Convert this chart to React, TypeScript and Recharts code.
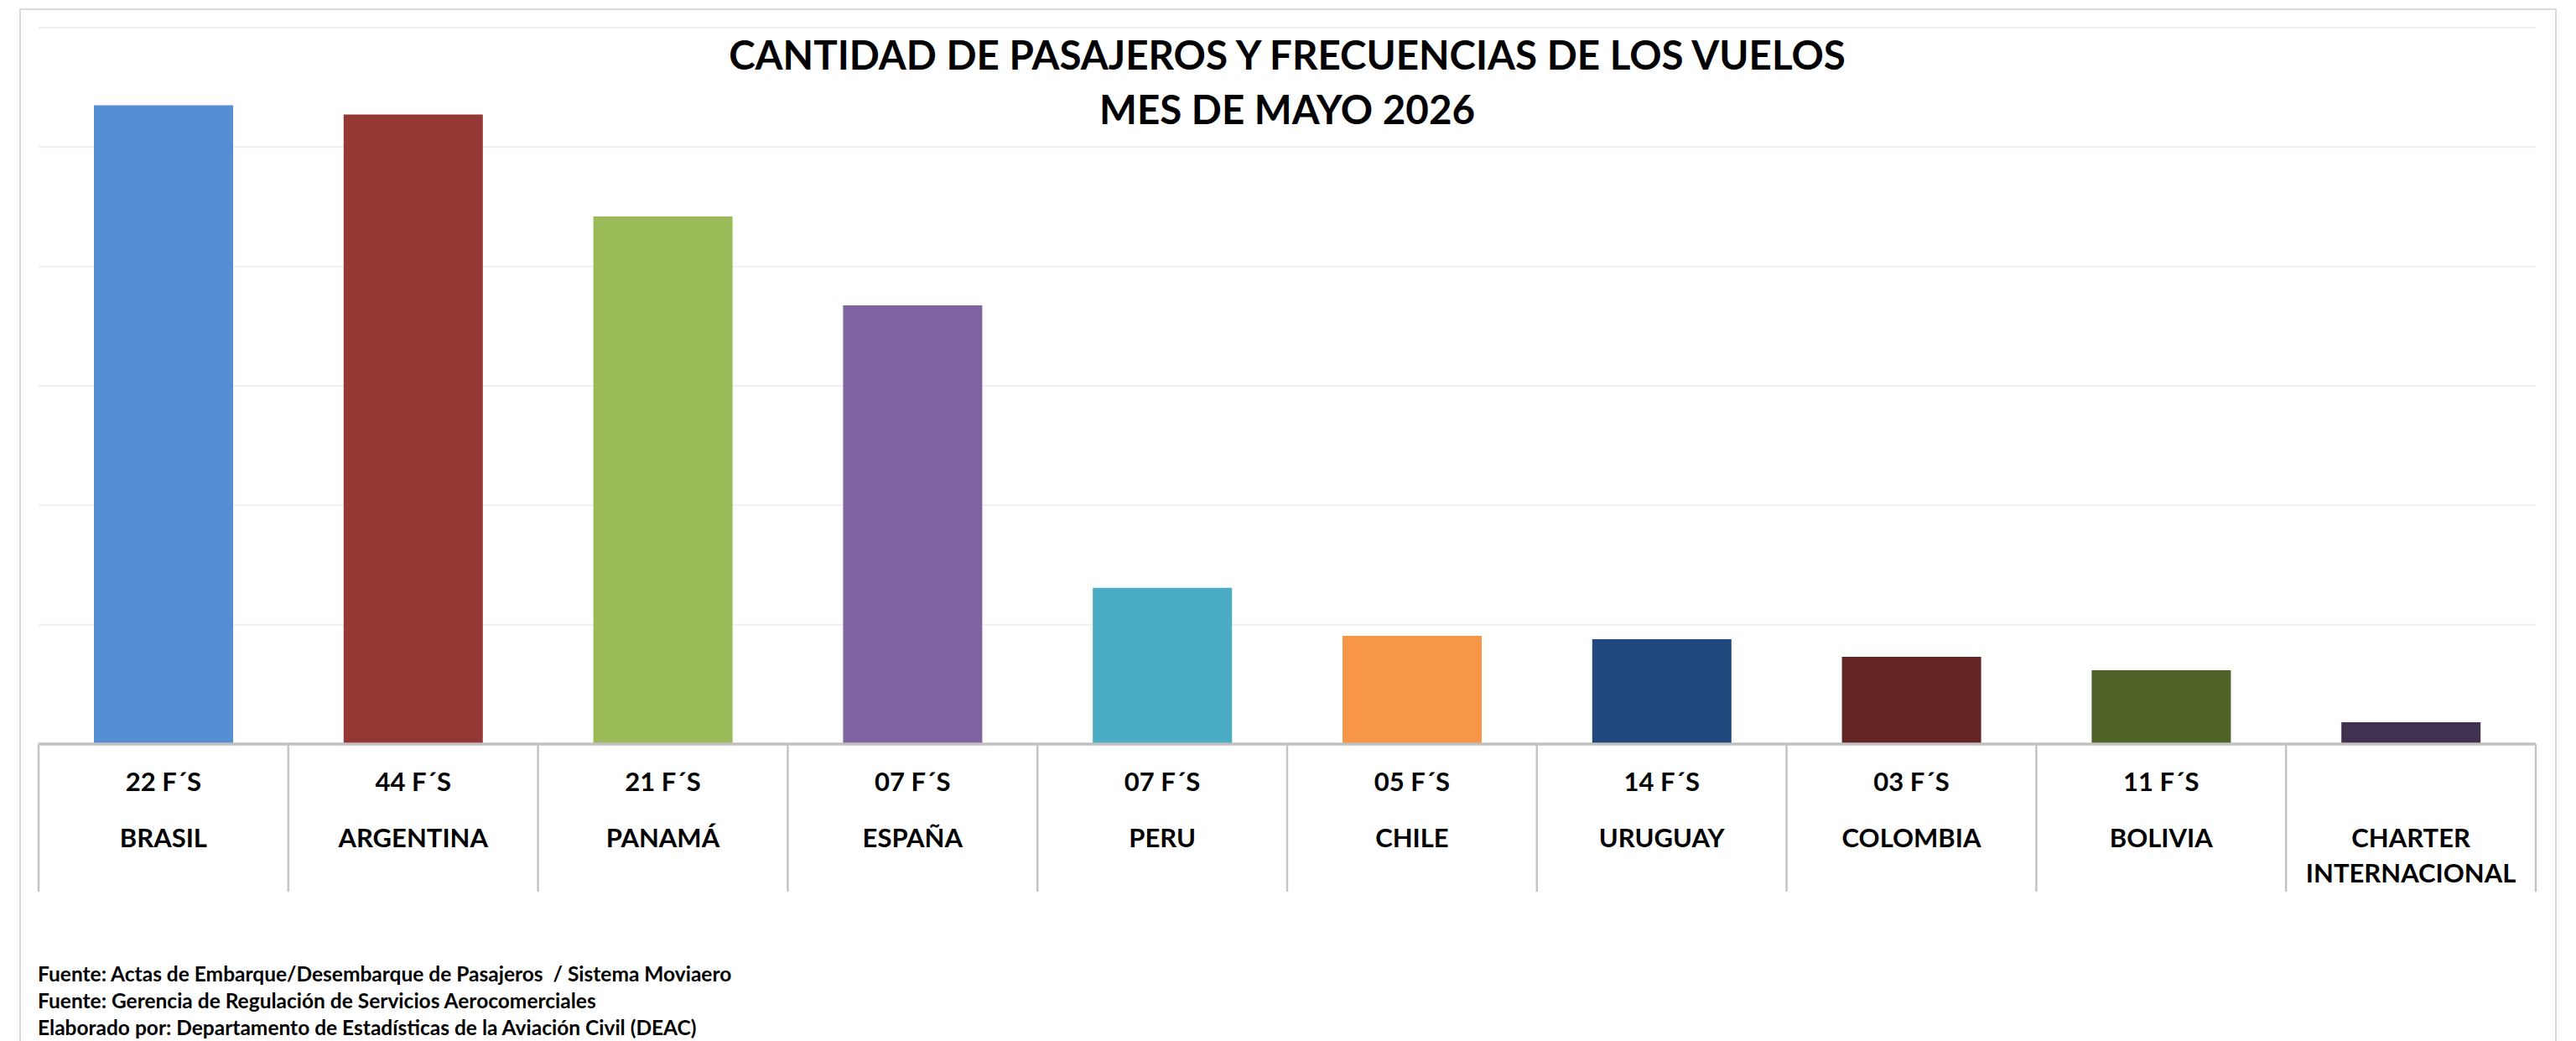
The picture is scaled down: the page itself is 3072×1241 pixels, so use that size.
import React from 'react';
import { BarChart, Bar, XAxis, YAxis, CartesianGrid, Cell } from 'recharts';

const countries = ['BRASIL', 'ARGENTINA', 'PANAMÁ', 'ESPAÑA', 'PERU', 'CHILE', 'URUGUAY', 'COLOMBIA', 'BOLIVIA', 'CHARTER INTERNACIONAL'];
const frequencies = ['22 F´S', '44 F´S', '21 F´S', '07 F´S', '07 F´S', '05 F´S', '14 F´S', '03 F´S', '11 F´S', ''];
const passengers = [26750, 26360, 22100, 18370, 6540, 4530, 4390, 3650, 3090, 910];
const barColors = ['#558ED5', '#953735', '#9BBB59', '#8064A2', '#4BACC6', '#F79646', '#1F497D', '#632523', '#4F6228', '#403151'];
const yTicks = [0, 5000, 10000, 15000, 20000, 25000, 30000];

const titleLines = ['CANTIDAD DE PASAJEROS Y FRECUENCIAS DE LOS VUELOS', 'MES DE MAYO 2026'];
const notes = [
    'Fuente: Actas de Embarque/Desembarque de Pasajeros  / Sistema Moviaero',
    'Fuente: Gerencia de Regulación de Servicios Aerocomerciales',
    'Elaborado por: Departamento de Estadísticas de la Aviación Civil (DEAC)',
];

const data = countries.map((name, i) => ({
    name,
    freq: frequencies[i],
    value: passengers[i],
}));

const FONT = 'Lato, "Open Sans", sans-serif';
const W = 3072;
const H = 1241;
const margin = { top: 33, right: 48, left: 46, bottom: 0 };
const AXIS_H = 354;

const CategoryTick = (props: any) => {
    const { x, y, payload, index } = props;
    const half = payload?.offset || (W - margin.left - margin.right) / countries.length / 2;
    const row = data[index] || { freq: '', name: payload.value };
    const words = String(payload.value).split(' ');
    return (
        <g>
            <line x1={x - half} x2={x - half} y1={y} y2={y + 176} stroke="#c4c4c4" strokeWidth={2.5} />
            {index === countries.length - 1 && (
                <line x1={x + half} x2={x + half} y1={y} y2={y + 176} stroke="#c4c4c4" strokeWidth={2.5} />
            )}
            {row.freq && (
                <text x={x} y={y + 56} textAnchor="middle" fontFamily={FONT} fontWeight={700} fontSize={31} fill="#000">
                    {row.freq}
                </text>
            )}
            {words.length > 1 ? (
                words.map((w, i) => (
                    <text key={w} x={x} y={y + 123 + i * 42} textAnchor="middle" fontFamily={FONT} fontWeight={700} fontSize={31} fill="#000">
                        {w}
                    </text>
                ))
            ) : (
                <text x={x} y={y + 123} textAnchor="middle" fontFamily={FONT} fontWeight={700} fontSize={31} fill="#000">
                    {payload.value}
                </text>
            )}
        </g>
    );
};

export default function App() {
    return (
        <div style={{ position: 'absolute', left: 0, top: 0, width: W, height: H, background: '#fff', overflow: 'hidden' }}>
            <div
                style={{
                    position: 'absolute',
                    left: 23,
                    top: 10,
                    width: 3026,
                    height: 1250,
                    border: '2px solid #d9d9d9',
                    boxSizing: 'border-box',
                }}
            />
            <div style={{ position: 'absolute', left: 0, top: 0 }}>
                <BarChart width={W} height={H} data={data} margin={margin}>
                    <CartesianGrid vertical={false} stroke="#efefef" strokeWidth={2} />
                    <YAxis hide domain={[0, 30000]} ticks={yTicks} />
                    <XAxis
                        dataKey="name"
                        height={AXIS_H}
                        interval={0}
                        tickLine={false}
                        tickSize={0}
                        tickMargin={0}
                        axisLine={{ stroke: '#c0c0c0', strokeWidth: 3.5 }}
                        tick={<CategoryTick />}
                    />
                    <Bar dataKey="value" barSize={166} isAnimationActive={false}>
                        {data.map((d, i) => (
                            <Cell key={d.name} fill={barColors[i]} />
                        ))}
                    </Bar>
                </BarChart>
            </div>
            <svg width={W} height={H} style={{ position: 'absolute', left: 0, top: 0, pointerEvents: 'none' }}>
                {titleLines.map((t, i) => (
                    <text key={t} x={1535} y={83 + i * 65} textAnchor="middle" fontFamily={FONT} fontWeight={700} fontSize={47.5} fill="#000">
                        {t}
                    </text>
                ))}
                {notes.map((n, i) => (
                    <text key={n} x={45} y={1170 + i * 32} fontFamily={FONT} fontWeight={700} fontSize={24.5} fill="#000" style={{ whiteSpace: 'pre' }}>
                        {n}
                    </text>
                ))}
            </svg>
        </div>
    );
}
